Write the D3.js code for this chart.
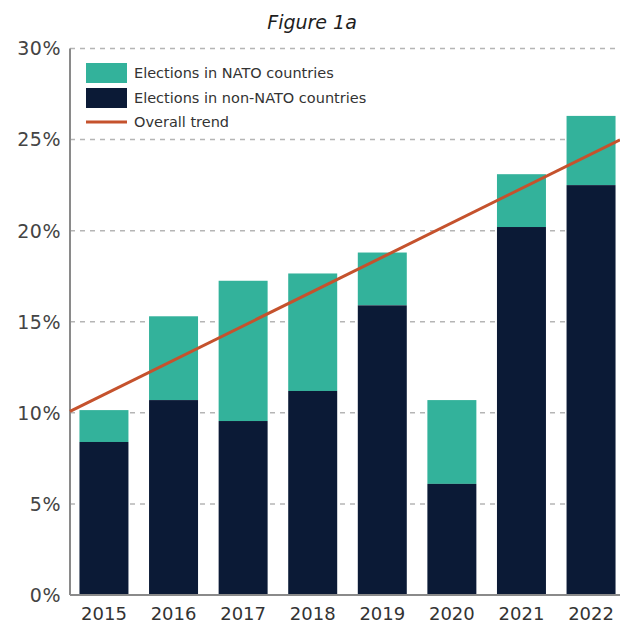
<!DOCTYPE html>
<head>
  <meta charset="utf-8">
  <script src="https://cdn.jsdelivr.net/npm/d3@7"></script>
  <style>
    body { margin: 0; background: #fff; }
    text { font-family: "DejaVu Sans", sans-serif; }
  </style>
</head>
<body>
  <div id="chartDiv"></div>
  <script>

    // data (percent)
    var years = ["2015", "2016", "2017", "2018", "2019", "2020", "2021", "2022"];
    var nonNato = [8.4, 10.7, 9.55, 11.2, 15.9, 6.1, 20.2, 22.5];
    var totals = [10.15, 15.3, 17.25, 17.65, 18.8, 10.7, 23.1, 26.3];
    var yTicks = [0, 5, 10, 15, 20, 25, 30];
    var trendYears = ["2015", "2022"];
    var trendValues = [11.0, 24.2];
    var legendLabels = ["Elections in NATO countries", "Elections in non-NATO countries", "Overall trend"];

    var width = 620, height = 624;
    var margin = {top: 48.5, right: 0, bottom: 29, left: 70};

    var teal = "#33b29b";
    var navy = "#0b1a36";
    var orange = "#c5522d";

    var svg = d3.select("#chartDiv").append("svg")
        .attr("width", width)
        .attr("height", height);

    var x = d3.scaleBand()
        .domain(years)
        .range([margin.left, 625])
        .paddingInner(0.296)
        .paddingOuter(0.136);

    var y = d3.scaleLinear()
        .domain([0, 30])
        .range([height - margin.bottom, margin.top]);

    // title
    svg.append("text")
        .attr("x", 312)
        .attr("y", 29)
        .attr("text-anchor", "middle")
        .style("font-style", "italic")
        .style("font-size", "19px")
        .style("fill", "#1e1e1e")
        .text("Figure 1a");

    // dashed grid
    svg.selectAll("line.grid")
        .data(yTicks.filter(function(d) { return d > 0; }))
      .enter().append("line")
        .attr("class", "grid")
        .attr("x1", margin.left)
        .attr("x2", width)
        .attr("y1", function(d) { return y(d); })
        .attr("y2", function(d) { return y(d); })
        .style("stroke", "#b5b5b5")
        .style("stroke-width", 1.5)
        .style("stroke-dasharray", "5,5");

    // y tick labels
    svg.selectAll("text.ytick")
        .data(yTicks)
      .enter().append("text")
        .attr("class", "ytick")
        .attr("x", 61)
        .attr("y", function(d) { return y(d); })
        .attr("dy", "0.36em")
        .attr("text-anchor", "end")
        .style("font-size", "19px")
        .style("letter-spacing", "0.5px")
        .style("fill", "#444")
        .text(function(d) { return d + "%"; });

    // stacked bars
    var bars = svg.selectAll("g.bar")
        .data(years)
      .enter().append("g")
        .attr("class", "bar");

    bars.append("rect")
        .attr("x", function(d) { return x(d); })
        .attr("width", x.bandwidth())
        .attr("y", function(d, i) { return y(totals[i]); })
        .attr("height", function(d, i) { return y(nonNato[i]) - y(totals[i]); })
        .style("fill", teal);

    bars.append("rect")
        .attr("x", function(d) { return x(d); })
        .attr("width", x.bandwidth())
        .attr("y", function(d, i) { return y(nonNato[i]); })
        .attr("height", function(d, i) { return y(0) - y(nonNato[i]); })
        .style("fill", navy);

    // x labels
    svg.selectAll("text.xtick")
        .data(years)
      .enter().append("text")
        .attr("class", "xtick")
        .attr("x", function(d) { return x(d) + x.bandwidth() / 2; })
        .attr("y", 620)
        .attr("text-anchor", "middle")
        .style("font-size", "18px")
        .style("fill", "#333")
        .text(function(d) { return d; });

    // axis lines
    svg.append("line")
        .attr("x1", margin.left).attr("x2", margin.left)
        .attr("y1", y(30)).attr("y2", y(0))
        .style("stroke", "#8a8a8a")
        .style("stroke-width", 2);

    svg.append("line")
        .attr("x1", margin.left).attr("x2", width)
        .attr("y1", y(0)).attr("y2", y(0))
        .style("stroke", "#8a8a8a")
        .style("stroke-width", 2);

    // trend line, extended from the axis to the right edge
    var tx0 = x(trendYears[0]) + x.bandwidth() / 2;
    var tx1 = x(trendYears[1]) + x.bandwidth() / 2;
    var trend = d3.scaleLinear().domain([tx0, tx1]).range(trendValues);

    svg.append("line")
        .attr("x1", margin.left)
        .attr("y1", y(trend(margin.left)))
        .attr("x2", width)
        .attr("y2", y(trend(width)))
        .style("stroke", orange)
        .style("stroke-width", 3);

    // legend
    var legend = svg.append("g")
        .attr("transform", "translate(86,63)");

    legend.append("rect")
        .attr("width", 41).attr("height", 20)
        .style("fill", teal);

    legend.append("rect")
        .attr("y", 25)
        .attr("width", 41).attr("height", 20)
        .style("fill", navy);

    legend.append("line")
        .attr("x1", 0).attr("x2", 41)
        .attr("y1", 59).attr("y2", 59)
        .style("stroke", orange)
        .style("stroke-width", 3);

    legend.selectAll("text")
        .data(legendLabels)
      .enter().append("text")
        .attr("x", 48)
        .attr("y", function(d, i) { return 10 + i * 24.5; })
        .attr("dy", "0.35em")
        .style("font-size", "14.5px")
        .style("fill", "#333")
        .text(function(d) { return d; });

  </script>
</body>
